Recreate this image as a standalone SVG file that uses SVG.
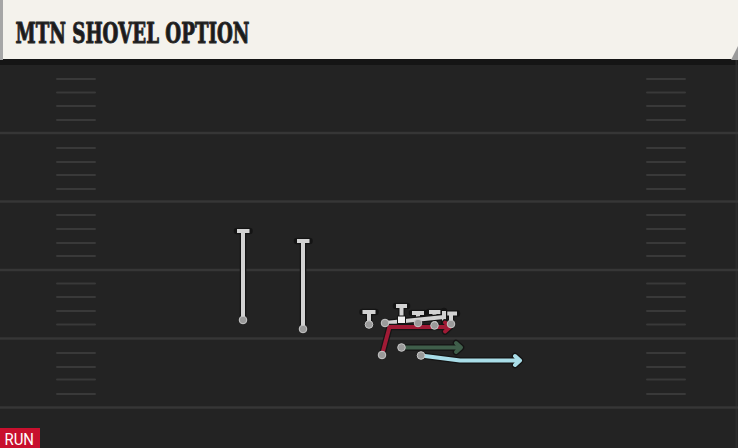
<svg xmlns="http://www.w3.org/2000/svg" width="738" height="448" viewBox="0 0 738 448">
  <defs>
    <style>
      .yard { stroke: #363636; stroke-width: 2.5; }
      .hash { stroke: #393939; stroke-width: 2; stroke-linecap: round; }
      .out { fill: none; stroke: #141414; stroke-width: 6.5; stroke-linecap: round; stroke-linejoin: round; }
      .pl { fill: none; stroke: #d2d2d2; stroke-width: 4; stroke-linecap: butt; stroke-linejoin: round; }
      .dot { fill: #9a9a9a; stroke: #c8c8c8; stroke-width: 1; }
      .red { fill: none; stroke: #a01a35; stroke-width: 4; stroke-linecap: round; stroke-linejoin: round; }
      .grn { fill: none; stroke: #3f5e4a; stroke-width: 4; stroke-linecap: round; stroke-linejoin: round; }
      .blu { fill: none; stroke: #a9dde8; stroke-width: 4; stroke-linecap: round; stroke-linejoin: round; }
      .title { font-family: "DejaVu Serif", "Liberation Serif", serif; font-weight: bold; font-size: 28px; fill: #1b1b1b; stroke: #2a2a2a; stroke-width: 1.1; stroke-linejoin: round; }
      .tag { font-family: Roboto, "Liberation Sans", sans-serif; font-size: 16px; fill: #ffffff; }
    </style>
  </defs>

  <!-- field background -->
  <rect x="0" y="0" width="738" height="448" fill="#232323"/>
  <rect x="0" y="59" width="738" height="6" fill="#151515"/>
  <line x1="736.5" y1="60" x2="736.5" y2="448" stroke="#2c2c2c" stroke-width="2"/>

  <!-- yard lines -->
  <g id="yard-lines">
    <line class="yard" x1="0" y1="133" x2="738" y2="133"/>
    <line class="yard" x1="0" y1="201.5" x2="738" y2="201.5"/>
    <line class="yard" x1="0" y1="270" x2="738" y2="270"/>
    <line class="yard" x1="0" y1="338.5" x2="738" y2="338.5"/>
    <line class="yard" x1="0" y1="407.5" x2="738" y2="407.5"/>
  </g>

  <!-- hash marks -->
  <g id="hashes">
    <path class="hash" d="M57 79H95M57 92.5H95M57 106H95M57 120H95M57 148H95M57 162H95M57 175H95M57 189H95M57 215H95M57 229H95M57 243H95M57 256H95M57 283.5H95M57 297H95M57 311H95M57 324.5H95M57 353H95M57 367H95M57 379.5H95M57 394H95"/>
    <path class="hash" d="M647 79H685M647 92.5H685M647 106H685M647 120H685M647 148H685M647 162H685M647 175H685M647 189H685M647 215H685M647 229H685M647 243H685M647 256H685M647 283.5H685M647 297H685M647 311H685M647 324.5H685M647 353H685M647 367H685M647 379.5H685M647 394H685"/>
  </g>

  <!-- header -->
  <g id="header">
    <rect x="0" y="0" width="738" height="59" fill="#f4f2ec"/>
    <rect x="0" y="0" width="3" height="60" fill="#a6a6a6"/>
    <polygon points="738,46 738,60 731,60" fill="#9a9a9a"/>
    <text class="title" x="15.5" y="42.5" textLength="234" lengthAdjust="spacingAndGlyphs">MTN SHOVEL OPTION</text>
  </g>

  <!-- connectors / routes -->
  <g id="connectors">
    <!-- receivers -->
    <path class="out" d="M243 320V231M237 231H249.5"/>
    <path class="pl" d="M243 320V231M237 231H249.5"/>
    <path class="out" d="M303 329V241M297 241H309.5"/>
    <path class="pl" d="M303 329V241M297 241H309.5"/>
    <!-- linemen blocks -->
    <path class="out" d="M369 324V312M362.5 312H375.5"/>
    <path class="pl" d="M369 324V312M362.5 312H375.5"/>
    <path class="out" d="M401.5 318V306M396 306H407"/>
    <path class="pl" d="M401.5 318V306M396 306H407"/>
    <path class="out" d="M418 323V313M412 313H424"/>
    <path class="pl" d="M418 323V313M412 313H424"/>
    <path class="out" d="M434.5 325.5V312M429 312H440.5"/>
    <path class="pl" d="M434.5 325.5V312M429 312H440.5"/>
    <path class="out" d="M451 324V313.5M445 313.5H457"/>
    <path class="pl" d="M451 324V313.5M445 313.5H457"/>
    <!-- pulling guard -->
    <path class="out" d="M385 323L444 317M444 311V323"/>
    <path class="pl" d="M385 323L444 317M444 311V323"/>
    <!-- red route -->
    <path class="out" d="M382 355L389.5 327H449M445 322.5L450 327L445 331.5"/>
    <path class="red" d="M382 355L389.5 327H449M445 322.5L450 327L445 331.5"/>
    <!-- green route -->
    <path class="out" d="M401.5 347.5H460M456 343L461 347.5L456 352"/>
    <path class="grn" d="M401.5 347.5H460M456 343L461 347.5L456 352"/>
    <!-- blue route -->
    <path class="out" d="M421 355.5L460 360.5H519M515 356L520 360.5L515 365"/>
    <path class="blu" d="M421 355.5L460 360.5H519M515 356L520 360.5L515 365"/>
  </g>

  <!-- players -->
  <g id="wr-left"><circle class="dot" cx="243" cy="320" r="3.8"/></g>
  <g id="wr-slot"><circle class="dot" cx="303" cy="329" r="3.8"/></g>
  <g id="lt"><circle class="dot" cx="369" cy="324.5" r="3.8"/></g>
  <g id="lg"><circle class="dot" cx="385" cy="323" r="3.8"/></g>
  <g id="center"><rect x="397.5" y="316" width="8" height="7.5" fill="#f2f2f2" stroke="#141414" stroke-width="1"/></g>
  <g id="rg"><circle class="dot" cx="418" cy="323" r="3.8"/></g>
  <g id="rt"><circle class="dot" cx="434.5" cy="325.5" r="3.8"/></g>
  <g id="te"><circle class="dot" cx="451" cy="324" r="3.8"/></g>
  <g id="qb"><circle class="dot" cx="382" cy="355" r="3.8" fill="#a07078"/></g>
  <g id="rb"><circle class="dot" cx="401.5" cy="347.5" r="3.8"/></g>
  <g id="hb"><circle class="dot" cx="421" cy="355.5" r="3.8"/></g>

  <!-- run tag -->
  <g id="run-tag">
    <rect x="0" y="428" width="40" height="20" fill="#c8102e"/>
    <text class="tag" x="4.5" y="445" textLength="29.5" lengthAdjust="spacingAndGlyphs">RUN</text>
  </g>
</svg>
